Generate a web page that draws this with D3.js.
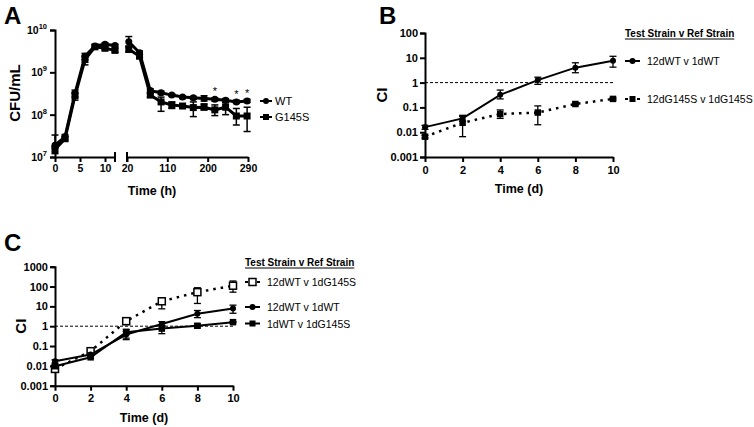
<!DOCTYPE html>
<html><head><meta charset="utf-8">
<script src="https://cdn.jsdelivr.net/npm/d3@7"></script>
<style>body{margin:0;background:#fff}svg{font-family:"Liberation Sans",Arial,sans-serif;background:#fff}</style>
</head><body>
<svg id="c" width="754" height="427"></svg>
<script>
// ---------- Panel A data ----------
const timeA1 = [0, 2, 4, 6, 8, 10, 12];
const wtA1 = [1.9e7, 3.0e7, 3.2e8, 2.4e9, 4.2e9, 4.6e9, 4.3e9];
const gA1  = [1.5e7, 2.7e7, 2.8e8, 2.0e9, 4.0e9, 3.7e9, 3.3e9];
const wtA1Lo = [1.6e7, 2.6e7, 2.6e8, 2.0e9, 3.9e9, 4.2e9, 4.0e9];
const wtA1Hi = [3.3e7, 3.4e7, 3.8e8, 2.8e9, 4.5e9, 5.0e9, 4.6e9];
const gA1Lo  = [1.2e7, 2.4e7, 2.2e8, 1.5e9, 3.7e9, 3.4e9, 3.0e9];
const gA1Hi  = [1.8e7, 3.0e7, 3.4e8, 2.5e9, 4.3e9, 4.0e9, 3.6e9];
const timeA2 = [24, 48, 72, 96, 120, 144, 168, 192, 216, 240, 264, 288];
const wtA2 = [5.3e9, 2.9e9, 3.7e8, 3.3e8, 2.9e8, 2.6e8, 2.5e8, 2.4e8, 2.3e8, 2.2e8, 2.0e8, 2.1e8];
const gA2  = [3.5e9, 2.4e9, 2.9e8, 2.0e8, 1.7e8, 1.6e8, 1.47e8, 1.5e8, 1.3e8, 1.5e8, 9.3e7, 9.3e7];
const wtA2Lo = [4.2e9, 2.6e9, 3.3e8, 3.0e8, 2.7e8, 2.4e8, 2.3e8, 2.1e8, 2.1e8, 2.0e8, 1.85e8, 1.95e8];
const wtA2Hi = [7.0e9, 3.2e9, 4.1e8, 3.6e8, 3.1e8, 2.8e8, 2.7e8, 2.8e8, 2.5e8, 2.4e8, 2.2e8, 2.3e8];
const gA2Lo  = [3.0e9, 2.2e9, 2.6e8, 1.2e8, 1.4e8, 1.45e8, 9.0e7, 1.3e8, 9.5e7, 1.0e8, 5.7e7, 4.0e7];
const gA2Hi  = [4.0e9, 2.6e9, 3.2e8, 2.6e8, 2.0e8, 1.75e8, 2.0e8, 1.8e8, 1.7e8, 1.9e8, 1.4e8, 1.5e8];
const starTimes = [216, 264, 288];
const tickA1 = [0, 5, 10];
const tickA2 = [20, 110, 200, 290];
const tickAy = [7, 8, 9, 10];

// ---------- Panel B data ----------
const days = [0, 2, 4, 6, 8, 10];
const bWT   = [0.016, 0.036, 0.32, 1.26, 4.0, 7.6];
const bWTLo = [0.013, 0.028, 0.22, 0.85, 2.5, 4.2];
const bWTHi = [0.019, 0.048, 0.50, 1.65, 6.3, 11.5];
const bG    = [0.0066, 0.024, 0.054, 0.062, 0.137, 0.22];
const bGLo  = [0.0058, 0.0066, 0.036, 0.020, 0.125, 0.20];
const bGHi  = [0.0075, 0.043, 0.079, 0.115, 0.15, 0.24];
const tickCIb = [0.001, 0.01, 0.1, 1, 10, 100];
const tickCIbLab = ["0.001", "0.01", "0.1", "1", "10", "100"];

// ---------- Panel C data ----------
const cOpen   = [0.007, 0.055, 1.8, 18, 52, 110];
const cOpenLo = [0.006, 0.048, 1.2, 7.5, 14, 52];
const cOpenHi = [0.008, 0.062, 2.3, 27, 87, 190];
const cWT     = [0.017, 0.037, 0.38, 1.3, 4.2, 7.8];
const cWTLo   = [0.014, 0.030, 0.25, 1.0, 2.7, 4.5];
const cWTHi   = [0.020, 0.045, 0.55, 1.7, 6.2, 11.5];
const cSq     = [0.0096, 0.027, 0.5, 0.76, 1.05, 1.6];
const cSqLo   = [0.008, 0.024, 0.21, 0.42, 0.82, 1.5];
const cSqHi   = [0.011, 0.030, 0.70, 1.10, 1.30, 1.7];
const tickCIc = [0.001, 0.01, 0.1, 1, 10, 100, 1000];
const tickCIcLab = ["0.001", "0.01", "0.1", "1", "10", "100", "1000"];
const tickDays = [0, 2, 4, 6, 8, 10];

const svg = d3.select("#c");
const BOLD = 700;

function circle(g, x, y, r) {
  g.append("circle").attr("cx", x).attr("cy", y).attr("r", r).attr("fill", "#000");
}
function square(g, x, y, s, open) {
  g.append("rect").attr("x", x - s / 2).attr("y", y - s / 2).attr("width", s).attr("height", s)
    .attr("fill", open ? "#fff" : "#000").attr("stroke", "#000").attr("stroke-width", open ? 1.5 : 0);
}
function errbar(g, x, y1, y2, cap, w) {
  g.append("line").attr("x1", x).attr("x2", x).attr("y1", y1).attr("y2", y2).attr("stroke", "#000").attr("stroke-width", w);
  [y1, y2].forEach(y => g.append("line").attr("x1", x - cap).attr("x2", x + cap).attr("y1", y).attr("y2", y).attr("stroke", "#000").attr("stroke-width", w));
}
function styleAxis(a, w) {
  a.selectAll("path,line").attr("stroke", "#000").attr("stroke-width", w);
  a.selectAll("text").attr("fill", "#000").attr("font-weight", BOLD);
}

// ================= Panel A =================
(function () {
  const g = svg.append("g");
  const y = d3.scaleLog().domain([1e7, 1e10]).range([157, 30]);
  const x1 = d3.scaleLinear().domain([0, 12]).range([55, 115]);
  const x2 = d3.scaleLinear().domain([20, 290]).range([127, 248]);

  const ya = g.append("g").attr("transform", "translate(55,0)")
    .call(d3.axisLeft(y).tickValues(tickAy.map(e => Math.pow(10, e))).tickSize(5).tickFormat(() => ""));
  styleAxis(ya, 2);
  tickAy.forEach(e => {
    const t = g.append("text").attr("x", 47).attr("y", y(Math.pow(10, e)) + 4).attr("text-anchor", "end")
      .attr("font-size", 10.5).attr("font-weight", BOLD);
    t.append("tspan").text("10");
    t.append("tspan").attr("font-size", 7.5).attr("dy", -5).text(e);
  });

  const xa1 = g.append("g").attr("transform", "translate(0,157)")
    .call(d3.axisBottom(x1).tickValues(tickA1).tickSize(5).tickSizeOuter(0).tickPadding(3));
  styleAxis(xa1, 2); xa1.selectAll("text").attr("font-size", 10.5);
  g.append("line").attr("x1", x1(12)).attr("x2", x1(12)).attr("y1", 152).attr("y2", 162).attr("stroke", "#000").attr("stroke-width", 2);
  const xa2 = g.append("g").attr("transform", "translate(0,157)")
    .call(d3.axisBottom(x2).tickValues(tickA2).tickSize(5).tickSizeOuter(0).tickPadding(3));
  styleAxis(xa2, 2); xa2.selectAll("text").attr("font-size", 10.5);
  g.append("line").attr("x1", x2(20)).attr("x2", x2(20)).attr("y1", 152).attr("y2", 162).attr("stroke", "#000").attr("stroke-width", 2);

  const line1 = d3.line().x((d, i) => x1(timeA1[i])).y(d => y(d));
  const line2 = d3.line().x((d, i) => x2(timeA2[i])).y(d => y(d));
  [[wtA1, line1], [gA1, line1], [wtA2, line2], [gA2, line2]].forEach(([arr, ln]) =>
    g.append("path").attr("d", ln(arr)).attr("fill", "none").attr("stroke", "#000").attr("stroke-width", 3));

  timeA1.forEach((t, i) => {
    errbar(g, x1(t), y(wtA1Hi[i]), y(wtA1Lo[i]), 3.5, 1.5);
    errbar(g, x1(t), y(gA1Hi[i]), y(gA1Lo[i]), 3.5, 1.5);
    circle(g, x1(t), y(wtA1[i]), 3.5);
    square(g, x1(t), y(gA1[i]), 7);
  });
  timeA2.forEach((t, i) => {
    errbar(g, x2(t), y(wtA2Hi[i]), y(wtA2Lo[i]), 3.5, 1.5);
    errbar(g, x2(t), y(gA2Hi[i]), y(gA2Lo[i]), 3.5, 1.5);
    circle(g, x2(t), y(wtA2[i]), 3.5);
    square(g, x2(t), y(gA2[i]), 7);
  });
  starTimes.forEach(t => {
    const i = timeA2.indexOf(t);
    g.append("text").attr("x", x2(t)).attr("y", y(wtA2[i]) - 4).attr("text-anchor", "middle")
      .attr("font-size", 11).attr("fill", "#000").text("*");
  });

  const lg = [["WT", 101, "c"], ["G145S", 117, "s"]];
  lg.forEach(([lab, ly, m]) => {
    g.append("line").attr("x1", 260).attr("x2", 272).attr("y1", ly).attr("y2", ly).attr("stroke", "#000").attr("stroke-width", 2);
    if (m === "c") circle(g, 266, ly, 3); else square(g, 266, ly, 6);
    g.append("text").attr("x", 275).attr("y", ly + 4).attr("font-size", 11).attr("fill", "#000").text(lab);
  });

  g.append("text").attr("x", 152).attr("y", 195).attr("text-anchor", "middle").attr("font-size", 12.5).attr("font-weight", BOLD).text("Time (h)");
  g.append("text").attr("transform", "translate(20,93) rotate(-90)").attr("text-anchor", "middle").attr("font-size", 15).attr("font-weight", BOLD).text("CFU/mL");
  g.append("text").attr("x", 4).attr("y", 24).attr("font-size", 24).attr("font-weight", BOLD).text("A");
})();

// ================= CI panels =================
function ciPanel(opt) {
  const g = svg.append("g");
  const x = d3.scaleLinear().domain([0, 10]).range([opt.x0, opt.x1]);
  const y = d3.scaleLog().domain([opt.tickVals[0], opt.tickVals[opt.tickVals.length - 1]]).range([opt.y0, opt.y1]);
  const ya = g.append("g").attr("transform", `translate(${opt.x0},0)`)
    .call(d3.axisLeft(y).tickValues(opt.tickVals).tickSize(5).tickPadding(2).tickFormat((d, i) => opt.tickLabs[i]));
  styleAxis(ya, 2); ya.selectAll("text").attr("font-size", 11);
  const xa = g.append("g").attr("transform", `translate(0,${opt.y0})`)
    .call(d3.axisBottom(x).tickValues(tickDays).tickSize(5).tickSizeOuter(0).tickPadding(4));
  styleAxis(xa, 2); xa.selectAll("text").attr("font-size", 11);

  g.append("line").attr("x1", x(0)).attr("x2", x(10)).attr("y1", y(1)).attr("y2", y(1))
    .attr("stroke", "#000").attr("stroke-width", 1).attr("stroke-dasharray", "3,2");

  opt.series.forEach(s => {
    const ln = d3.line().x((d, i) => x(days[i])).y(d => y(d));
    const p = g.append("path").attr("d", ln(s.v)).attr("fill", "none").attr("stroke", "#000").attr("stroke-width", s.dotted ? 2.5 : 2);
    if (s.dotted) p.attr("stroke-dasharray", "2.5,5");
  });
  opt.series.forEach(s => {
    days.forEach((d, i) => {
      errbar(g, x(d), y(s.hi[i]), y(s.lo[i]), 3.5, 1.3);
      if (s.m === "c") circle(g, x(d), y(s.v[i]), 3);
      else square(g, x(d), y(s.v[i]), s.m === "o" ? 7 : 6.5, s.m === "o");
    });
  });

  const lx = opt.legX;
  const tt = g.append("text").attr("x", lx).attr("y", opt.legTitleY).attr("font-size", 10).attr("font-weight", BOLD).attr("fill", "#000").text("Test Strain v Ref Strain");
  const bb = tt.node().getBBox();
  g.append("line").attr("x1", bb.x).attr("x2", bb.x + bb.width).attr("y1", opt.legTitleY + 2).attr("y2", opt.legTitleY + 2).attr("stroke", "#000").attr("stroke-width", 1);
  opt.series.forEach(s => {
    const l = g.append("line").attr("x1", lx).attr("x2", lx + 15).attr("y1", s.ly).attr("y2", s.ly).attr("stroke", "#000").attr("stroke-width", 2);
    if (s.dotted) l.attr("stroke-dasharray", "3,3");
    if (s.m === "c") circle(g, lx + 7.5, s.ly, 3);
    else square(g, lx + 7.5, s.ly, s.m === "o" ? 7 : 6, s.m === "o");
    g.append("text").attr("x", lx + 22).attr("y", s.ly + 4).attr("font-size", 10.5).attr("fill", "#000").text(s.name);
  });

  g.append("text").attr("x", (opt.x0 + opt.x1) / 2).attr("y", opt.y0 + 36).attr("text-anchor", "middle").attr("font-size", 12.5).attr("font-weight", BOLD).text("Time (d)");
  g.append("text").attr("transform", `translate(${opt.ciX},${(opt.y0 + opt.y1) / 2}) rotate(-90)`).attr("text-anchor", "middle").attr("font-size", 15).attr("font-weight", BOLD).text("CI");
  g.append("text").attr("x", opt.letX).attr("y", opt.letY).attr("font-size", 24).attr("font-weight", BOLD).text(opt.letter);
}

ciPanel({
  x0: 425, x1: 613, y0: 157, y1: 33, tickVals: tickCIb, tickLabs: tickCIbLab,
  legX: 625, legTitleY: 37, ciX: 387, letX: 379, letY: 24, letter: "B",
  series: [
    { name: "12dWT v 1dWT", v: bWT, lo: bWTLo, hi: bWTHi, m: "c", dotted: false, ly: 61 },
    { name: "12dG145S v 1dG145S", v: bG, lo: bGLo, hi: bGHi, m: "s", dotted: true, ly: 99 }
  ]
});

ciPanel({
  x0: 55, x1: 233, y0: 385.7, y1: 266.7, tickVals: tickCIc, tickLabs: tickCIcLab,
  legX: 245, legTitleY: 266, ciX: 26, letX: 4, letY: 251, letter: "C",
  series: [
    { name: "12dWT v 1dG145S", v: cOpen, lo: cOpenLo, hi: cOpenHi, m: "o", dotted: true, ly: 282 },
    { name: "12dWT v 1dWT", v: cWT, lo: cWTLo, hi: cWTHi, m: "c", dotted: false, ly: 307 },
    { name: "1dWT v 1dG145S", v: cSq, lo: cSqLo, hi: cSqHi, m: "s", dotted: false, ly: 323.5 }
  ]
});
</script>
</body></html>
